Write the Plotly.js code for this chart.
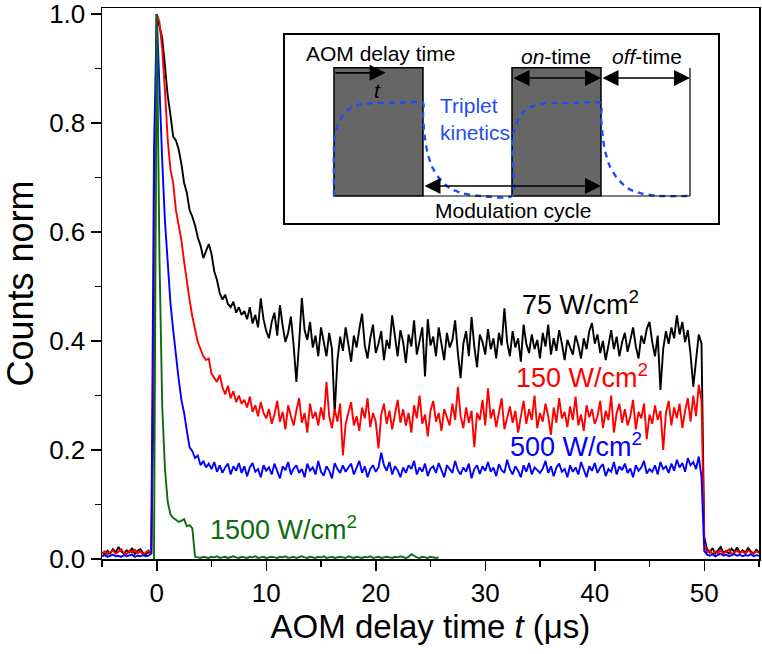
<!DOCTYPE html>
<html>
<head>
<meta charset="utf-8">
<script src="https://cdn.plot.ly/plotly-3.0.1.min.js"></script>
<style>html,body{margin:0;padding:0;background:#fff;}#chart{width:762px;height:654px;}</style>
</head>
<body>
<div id="chart"></div>
<script>
// ---- main data: sampled on a uniform grid (start t0, step dt, in µs) ----
const t0 = -5;
const dt = 0.25;

const counts75 = [
0.012,0.008,0.015,0.010,0.018,0.012,0.022,0.014,0.010,0.016,0.012,0.020,0.009,0.015,0.018,0.011,0.008,0.013,0.010,
0.35,1.0,
0.975,0.955,0.905,0.850,0.815,0.775,0.768,0.752,0.725,0.690,
0.672,0.640,0.628,0.612,0.590,0.575,0.552,0.565,0.578,0.560,
0.528,0.512,0.488,0.476,0.485,0.468,0.462,0.472,0.452,0.462,
0.448,0.455,0.440,0.462,0.432,0.448,0.425,0.478,0.440,0.418,
0.405,0.435,0.452,0.410,0.466,0.428,0.398,0.415,0.445,0.392,
0.325,0.395,0.479,0.420,0.402,0.435,0.388,0.410,0.372,0.425,
0.398,0.372,0.415,0.385,0.268,0.365,0.408,0.382,0.425,0.395,
0.362,0.410,0.388,0.422,0.450,0.392,0.368,0.405,0.430,0.378,
0.395,0.418,0.365,0.402,0.386,0.447,0.405,0.372,0.420,0.398,
0.360,0.412,0.390,0.438,0.375,0.400,0.425,0.335,0.440,0.392,
0.408,0.372,0.425,0.395,0.365,0.415,0.388,0.402,0.438,0.378,
0.332,0.395,0.418,0.372,0.444,0.390,0.352,0.412,0.398,0.375,
0.422,0.385,0.405,0.368,0.415,0.392,0.460,0.398,0.372,0.418,
0.388,0.405,0.362,0.430,0.395,0.378,0.412,0.385,0.402,0.368,
0.415,0.390,0.430,0.375,0.405,0.382,0.420,0.395,0.365,0.402,
0.388,0.375,0.410,0.392,0.368,0.405,0.385,0.418,0.433,0.395,
0.412,0.378,0.400,0.365,0.392,0.420,0.385,0.408,0.372,0.398,
0.415,0.380,0.402,0.425,0.390,0.368,0.410,0.395,0.422,0.435,
0.398,0.372,0.410,0.310,0.385,0.418,0.395,0.425,0.405,0.447,
0.412,0.435,0.398,0.420,0.375,0.316,0.365,0.412,0.395,
0.040,
0.018,0.012,0.020,0.010,0.016,0.022,0.012,0.015,0.010,0.019,0.013,0.021,0.011,0.016,0.012,0.020,0.014,0.010,0.017,0.012
];

const counts150 = [
0.010,0.014,0.008,0.012,0.016,0.010,0.013,0.018,0.011,0.009,0.015,0.012,0.017,0.010,0.014,0.008,0.012,0.016,0.010,
0.55,1.0,
0.985,0.935,0.860,0.770,0.715,0.690,0.640,0.610,0.585,0.545,
0.505,0.475,0.445,0.420,0.398,0.385,0.372,0.365,0.368,0.340,
0.332,0.325,0.338,0.315,0.302,0.318,0.295,0.308,0.288,0.300,
0.285,0.292,0.278,0.298,0.270,0.282,0.262,0.288,0.268,0.258,
0.275,0.248,0.265,0.290,0.252,0.270,0.238,0.282,0.262,0.245,
0.272,0.295,0.250,0.268,0.232,0.285,0.258,0.270,0.245,0.278,
0.255,0.325,0.262,0.240,0.275,0.252,0.285,0.190,0.248,0.270,
0.288,0.245,0.262,0.235,0.278,0.258,0.295,0.242,0.268,0.252,
0.203,0.265,0.285,0.248,0.272,0.238,0.262,0.292,0.250,0.275,
0.245,0.268,0.232,0.282,0.258,0.300,0.248,0.265,0.225,0.272,
0.290,0.252,0.268,0.235,0.275,0.260,0.245,0.285,0.255,0.316,
0.262,0.240,0.278,0.250,0.272,0.205,0.268,0.255,0.292,0.245,
0.313,0.258,0.275,0.242,0.268,0.295,0.238,0.262,0.280,0.250,
0.272,0.232,0.265,0.290,0.248,0.275,0.255,0.300,0.240,0.268,
0.252,0.285,0.262,0.228,0.278,0.250,0.295,0.258,0.270,0.242,
0.280,0.255,0.298,0.245,0.265,0.235,0.282,0.260,0.275,0.248,
0.262,0.290,0.240,0.272,0.255,0.300,0.232,0.268,0.285,0.250,
0.275,0.245,0.262,0.292,0.238,0.270,0.258,0.285,0.220,0.265,
0.248,0.282,0.255,0.272,0.200,0.268,0.290,0.245,0.278,0.258,
0.285,0.240,0.272,0.295,0.252,0.300,0.262,0.320,0.290,
0.030,
0.012,0.015,0.009,0.014,0.011,0.016,0.010,0.013,0.018,0.009,0.012,0.015,0.011,0.014,0.009,0.016,0.012,0.010,0.014,0.011
];

const counts500 = [
0.005,0.007,0.004,0.006,0.008,0.005,0.006,0.004,0.007,0.005,0.006,0.008,0.004,0.006,0.005,0.007,0.005,0.006,0.010,
0.75,1.0,
0.860,0.730,0.620,0.540,0.470,0.420,0.372,0.330,0.292,0.268,
0.235,0.205,0.198,0.185,0.190,0.172,0.180,0.168,0.175,0.165,
0.178,0.160,0.172,0.158,0.168,0.175,0.155,0.170,0.162,0.176,
0.158,0.170,0.152,0.168,0.176,0.160,0.165,0.150,0.172,0.162,
0.168,0.155,0.175,0.160,0.148,0.170,0.163,0.178,0.155,0.166,
0.172,0.158,0.165,0.150,0.175,0.162,0.168,0.155,0.180,0.160,
0.153,0.170,0.162,0.148,0.176,0.165,0.158,0.172,0.160,0.168,
0.175,0.155,0.166,0.180,0.158,0.170,0.150,0.165,0.172,0.160,
0.168,0.195,0.172,0.162,0.178,0.155,0.170,0.163,0.150,0.168,
0.158,0.172,0.165,0.180,0.155,0.168,0.160,0.175,0.152,0.166,
0.170,0.158,0.176,0.162,0.150,0.172,0.165,0.158,0.180,0.163,
0.155,0.168,0.160,0.175,0.148,0.165,0.172,0.156,0.170,0.162,
0.178,0.160,0.168,0.152,0.174,0.163,0.158,0.182,0.165,0.155,
0.170,0.162,0.150,0.172,0.160,0.176,0.155,0.168,0.163,0.158,
0.166,0.180,0.158,0.170,0.152,0.168,0.175,0.160,0.165,0.150,
0.172,0.160,0.168,0.155,0.178,0.163,0.150,0.170,0.162,0.176,
0.158,0.168,0.174,0.152,0.165,0.160,0.178,0.155,0.170,0.163,
0.175,0.158,0.166,0.150,0.172,0.162,0.168,0.180,0.157,0.165,
0.160,0.172,0.155,0.178,0.165,0.170,0.158,0.175,0.162,0.182,
0.168,0.176,0.160,0.185,0.172,0.178,0.165,0.188,0.150,
0.015,
0.008,0.006,0.009,0.005,0.007,0.010,0.006,0.008,0.005,0.007,0.009,0.006,0.008,0.005,0.007,0.006,0.009,0.005,0.007,0.006
];

// 1500 W/cm2 trace starts later and stops at about 25.8 µs
const t0Green = -0.25;
const counts1500 = [
0.0,1.0,0.55,0.28,0.165,0.105,0.082,0.075,0.072,0.068,0.070,0.073,0.060,0.062,0.056,0.004,
0.003,0.002,0.004,0.003,0.002,0.004,0.003,0.005,0.002,0.003,
0.004,0.002,0.003,0.005,0.003,0.002,0.004,0.003,0.002,0.004,
0.003,0.005,0.002,0.003,0.004,0.002,0.003,0.004,0.003,0.002,
0.004,0.003,0.005,0.002,0.003,0.004,0.002,0.003,0.005,0.003,
0.002,0.004,0.003,0.002,0.004,0.003,0.005,0.002,0.003,0.004,
0.002,0.003,0.004,0.003,0.002,0.005,0.003,0.002,0.004,0.003,
0.002,0.004,0.003,0.005,0.002,0.003,0.004,0.002,0.003,0.004,
0.003,0.002,0.004,0.003,0.005,0.003,0.002,0.004,0.009,0.006,
0.003,0.002,0.004,0.003,0.002,0.004,0.003,0.002,0.003
];

const seriesNames = ['75 W/cm<sup>2</sup>', '150 W/cm<sup>2</sup>', '500 W/cm<sup>2</sup>', '1500 W/cm<sup>2</sup>'];
const seriesColors = ['#000000', '#ff0000', '#0000ff', '#0b6e0b'];

// ---- inset schematic (units: one on-time = 1) ----
const kinT = [0,0,0.02,0.06,0.12,0.2,0.3,0.45,0.7,1.0,
              1.0,1.02,1.05,1.1,1.18,1.3,1.45,1.65,2.0,
              2.0,2.02,2.06,2.12,2.2,2.3,2.45,2.7,3.0,
              3.0,3.02,3.05,3.1,3.18,3.3,3.45,3.65,4.0];
const kinY = [0,0.38,0.5,0.58,0.65,0.69,0.715,0.725,0.725,0.725,
              0.62,0.46,0.34,0.23,0.14,0.06,0.02,0,0,
              0.38,0.5,0.58,0.65,0.69,0.715,0.725,0.725,0.725,
              0.62,0.46,0.34,0.23,0.14,0.06,0.02,0,0];
const onWindows = [[0,1],[2,3]];

const FONT = 'Liberation Sans, Arial, Helvetica, sans-serif';

const traces = [
  {y: counts75, x0: t0, dx: dt, color: seriesColors[0]},
  {y: counts150, x0: t0, dx: dt, color: seriesColors[1]},
  {y: counts500, x0: t0, dx: dt, color: seriesColors[2]},
  {y: counts1500, x0: t0Green, dx: dt, color: seriesColors[3]}
].map((s, i) => ({
  type: 'scatter', mode: 'lines', y: s.y, x0: s.x0, dx: s.dx,
  name: seriesNames[i], line: {color: s.color, width: 1.9},
  xaxis: 'x', yaxis: 'y', hoverinfo: 'skip'
}));

traces.push({
  type: 'scatter', mode: 'lines', x: kinT, y: kinY, xaxis: 'x2', yaxis: 'y2',
  line: {color: '#1f4ff0', width: 2.4, dash: '6px,5px', shape: 'spline', smoothing: 0.6},
  hoverinfo: 'skip'
});

const shapes = onWindows.map(w => ({
  type: 'rect', xref: 'x2', yref: 'y2', x0: w[0], x1: w[1], y0: 0, y1: 1,
  fillcolor: '#666666', line: {color: '#000', width: 1.5}, layer: 'below'
}));
shapes.push({type: 'line', xref: 'x2', yref: 'y2', x0: 1, x1: 2, y0: 0, y1: 0, line: {color: '#000', width: 1.2}});
shapes.push({type: 'line', xref: 'x2', yref: 'y2', x0: 3, x1: 4, y0: 0, y1: 0, line: {color: '#000', width: 1.2}});
shapes.push({type: 'line', xref: 'x2', yref: 'y2', x0: 4, x1: 4, y0: 0, y1: 1, line: {color: '#000', width: 1.2}});

function arrow(x1, y1, x2, y2, both) {
  return {xref: 'x2', yref: 'y2', axref: 'x2', ayref: 'y2', x: x2, y: y2, ax: x1, ay: y1,
    text: '', showarrow: true, arrowhead: 2, arrowsize: 2, arrowwidth: 1.6, arrowcolor: '#000',
    arrowside: both ? 'end+start' : 'end', startarrowhead: 2, startarrowsize: 2,
    standoff: 0, startstandoff: 0};
}

const annotations = [
  arrow(0, 0.96, 0.58, 0.96, false),
  arrow(2, 0.92, 3, 0.92, true),
  arrow(3, 0.92, 4, 0.92, true),
  arrow(1, 0.078, 3, 0.078, true),
  {xref: 'x2', yref: 'y2', x: -0.34, y: 1.11, xanchor: 'left', yanchor: 'middle', showarrow: false,
   text: 'AOM delay time', font: {size: 21, color: '#000'}},
  {xref: 'x2', yref: 'y2', x: 0.49, y: 0.82, xanchor: 'center', yanchor: 'middle', showarrow: false,
   text: '<i>t</i>', font: {size: 21, color: '#000'}},
  {xref: 'x2', yref: 'y2', x: 2.5, y: 1.09, xanchor: 'center', yanchor: 'middle', showarrow: false,
   text: '<i>on</i>-time', font: {size: 21, color: '#000'}},
  {xref: 'x2', yref: 'y2', x: 3.52, y: 1.09, xanchor: 'center', yanchor: 'middle', showarrow: false,
   text: '<i>off</i>-time', font: {size: 21, color: '#000'}},
  {xref: 'x2', yref: 'y2', x: 1.17, y: 0.60, xanchor: 'left', yanchor: 'middle', align: 'left', showarrow: false,
   text: 'Triplet<br>kinetics', font: {size: 21, color: '#1f4ff0'}},
  {xref: 'x2', yref: 'y2', x: 2.01, y: -0.11, xanchor: 'center', yanchor: 'middle', showarrow: false,
   text: 'Modulation cycle', font: {size: 21, color: '#000'}},
  // series labels
  {xref: 'x', yref: 'y', x: 38.7, y: 0.47, xanchor: 'center', yanchor: 'middle', showarrow: false,
   text: seriesNames[0], font: {size: 27, color: seriesColors[0]}},
  {xref: 'x', yref: 'y', x: 38.8, y: 0.335, xanchor: 'center', yanchor: 'middle', showarrow: false,
   text: seriesNames[1], font: {size: 27, color: seriesColors[1]}},
  {xref: 'x', yref: 'y', x: 38.3, y: 0.21, xanchor: 'center', yanchor: 'middle', showarrow: false,
   text: seriesNames[2], font: {size: 27, color: seriesColors[2]}},
  {xref: 'x', yref: 'y', x: 11.6, y: 0.056, xanchor: 'center', yanchor: 'middle', showarrow: false,
   text: seriesNames[3], font: {size: 27, color: seriesColors[3]}}
];

const layout = {
  width: 762, height: 654,
  margin: {l: 102, r: 3, t: 8, b: 95, pad: 0},
  paper_bgcolor: '#ffffff', plot_bgcolor: '#ffffff',
  showlegend: false,
  font: {family: FONT, color: '#000'},
  xaxis: {
    domain: [0, 1], anchor: 'y', range: [-5, 55], tick0: 0, dtick: 10,
    ticks: 'outside', ticklen: 10, tickwidth: 1.5, tickcolor: '#000',
    showline: true, mirror: true, linewidth: 1.5, linecolor: '#000',
    showgrid: false, zeroline: false, tickfont: {size: 26, family: FONT},
    ticklabeloverflow: 'allow',
    minor: {dtick: 5, tick0: 0, ticks: 'outside', ticklen: 6, tickwidth: 1.5, tickcolor: '#000', showgrid: false},
    title: {text: 'AOM delay time <i>t</i> (μs)', font: {size: 33, family: FONT}, standoff: 8}
  },
  yaxis: {
    domain: [0, 1], anchor: 'x', range: [0, 1.011], tick0: 0, dtick: 0.2, tickformat: '.1f',
    ticks: 'outside', ticklen: 10, tickwidth: 1.5, tickcolor: '#000',
    showline: true, mirror: true, linewidth: 1.5, linecolor: '#000',
    showgrid: false, zeroline: false, tickfont: {size: 26, family: FONT},
    ticklabeloverflow: 'allow',
    minor: {dtick: 0.1, tick0: 0, ticks: 'outside', ticklen: 6, tickwidth: 1.5, tickcolor: '#000', showgrid: false},
    title: {text: 'Counts norm', font: {size: 36, family: FONT}, standoff: 16}
  },
  xaxis2: {
    domain: [0.2785, 0.9376], anchor: 'y2', range: [-0.551, 4.315],
    showline: true, mirror: true, linewidth: 2, linecolor: '#000',
    showgrid: false, zeroline: false, showticklabels: false, ticks: '', fixedrange: true
  },
  yaxis2: {
    domain: [0.6098, 0.951], anchor: 'x2', range: [-0.2105, 1.255],
    showline: true, mirror: true, linewidth: 2, linecolor: '#000',
    showgrid: false, zeroline: false, showticklabels: false, ticks: '', fixedrange: true
  },
  shapes: shapes,
  annotations: annotations
};

Plotly.newPlot('chart', traces, layout, {displayModeBar: false, staticPlot: true});
</script>
</body>
</html>
